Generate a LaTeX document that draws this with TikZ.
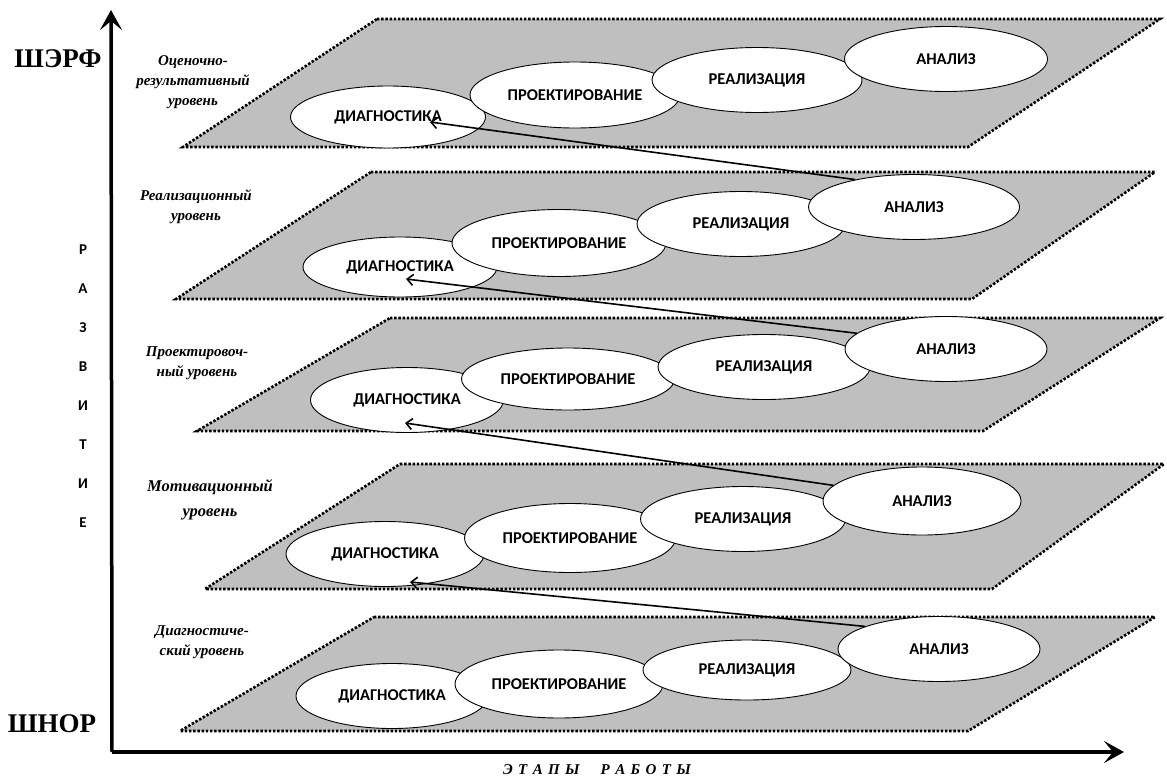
\documentclass[tikz,border=0pt]{standalone}
\usepackage{fontspec}
\setmainfont{Liberation Serif}
\newfontfamily\calibrifont{Carlito}
\usetikzlibrary{shapes.geometric,arrows.meta,calc}
\newcommand\lsp{\kern0.36em}
\begin{document}
\begin{tikzpicture}[x=1pt,y=-1pt,
  layer/.style={fill=black!25, draw=black, line width=2.6pt, dash pattern=on 2.4pt off 1.8pt},
  stage/.style={ellipse, draw=black, line width=0.9pt, fill=white, inner sep=0pt,
    font=\calibrifont\bfseries\fontsize{16.5}{18}\selectfont},
  lvl/.style={font=\bfseries\itshape\fontsize{15}{20}\selectfont, align=center},
  link/.style={line width=1.6pt, -{Straight Barb[length=6pt,width=11pt]}},
  axis/.style={line width=3.5pt, -{Stealth[length=20pt,width=22pt,inset=9pt]}},
  pole/.style={font=\bfseries\fontsize{27}{30}\selectfont}
]
\useasboundingbox (0,0) rectangle (1167,779);

% layers (planes)
\draw[layer] (377,19) -- (1160,19) -- (968,147) -- (183,147) -- cycle;
\draw[layer] (371,172) -- (1155,172) -- (972,299) -- (176,299) -- cycle;
\draw[layer] (390,318) -- (1160,318) -- (983,431) -- (197,431) -- cycle;
\draw[layer] (400,464) -- (1164,464) -- (992,589) -- (205,589) -- cycle;
\draw[layer] (374,617) -- (1155,617) -- (968,731) -- (180,731) -- cycle;

% level 1
\node[stage, minimum width=195pt, minimum height=62pt] (d1) at (388,117) {ДИАГНОСТИКА};
\node[stage, minimum width=210pt, minimum height=66pt] (p1) at (575,95) {ПРОЕКТИРОВАНИЕ};
\node[stage, minimum width=210pt, minimum height=65pt] (r1) at (757,80) {РЕАЛИЗАЦИЯ};
\node[stage, minimum width=203pt, minimum height=65pt] (a1) at (946,59) {АНАЛИЗ};
% level 2
\node[stage, minimum width=194pt, minimum height=60pt] (d2) at (400,267) {ДИАГНОСТИКА};
\node[stage, minimum width=214pt, minimum height=67pt] (p2) at (559,243) {ПРОЕКТИРОВАНИЕ};
\node[stage, minimum width=208pt, minimum height=65pt] (r2) at (741,224) {РЕАЛИЗАЦИЯ};
\node[stage, minimum width=211pt, minimum height=65pt] (a2) at (914,207) {АНАЛИЗ};
% level 3
\node[stage, minimum width=193pt, minimum height=65pt] (d3) at (407,400) {ДИАГНОСТИКА};
\node[stage, minimum width=213pt, minimum height=62pt] (p3) at (568,379) {ПРОЕКТИРОВАНИЕ};
\node[stage, minimum width=212pt, minimum height=65pt] (r3) at (764,367) {РЕАЛИЗАЦИЯ};
\node[stage, minimum width=202pt, minimum height=65pt] (a3) at (946,349) {АНАЛИЗ};
% level 4
\node[stage, minimum width=198pt, minimum height=65pt] (d4) at (385,554) {ДИАГНОСТИКА};
\node[stage, minimum width=211pt, minimum height=69pt] (p4) at (570,538) {ПРОЕКТИРОВАНИЕ};
\node[stage, minimum width=205pt, minimum height=65pt] (r4) at (743,519) {РЕАЛИЗАЦИЯ};
\node[stage, minimum width=198pt, minimum height=68pt] (a4) at (922,501) {АНАЛИЗ};
% level 5
\node[stage, minimum width=192pt, minimum height=65pt] (d5) at (392,696) {ДИАГНОСТИКА};
\node[stage, minimum width=208pt, minimum height=68pt] (p5) at (559,684) {ПРОЕКТИРОВАНИЕ};
\node[stage, minimum width=208pt, minimum height=60pt] (r5) at (747,670) {РЕАЛИЗАЦИЯ};
\node[stage, minimum width=202pt, minimum height=65pt] (a5) at (939,649) {АНАЛИЗ};

% transitions between levels
\coordinate (t1) at ($(d1.center)+(42,5)$);
\coordinate (t2) at ($(d2.center)+(6,12)$);
\coordinate (t3) at ($(d3.center)+(-2,23)$);
\coordinate (t4) at ($(d4.center)+(25,28)$);
\draw[link] (a2.155) -- (t1);
\draw[link] (a3.170) -- (t2);
\draw[link] (a4.170) -- (t3);
\draw[link] (a5.163) -- (t4);

% axes
\coordinate (O) at (112,752);
\coordinate (ytip) at (111,10);
\coordinate (xtip) at (1124,752);
\draw[axis] (O) -- (ytip);
\draw[axis] (O) -- (xtip);

% axis labels
\node[pole] (top) at (58,59) {ШЭРФ};
\node[pole] (bottom) at (52,724) {ШНОР};
\node[font=\calibrifont\bfseries\fontsize{15}{39}\selectfont, align=center] (razv) at (83,386)
  {Р\\А\\З\\В\\И\\Т\\И\\Е};
\node[font=\bfseries\itshape\fontsize{15}{16}\selectfont] (etapy) at (597,770)
  {Э\lsp Т\lsp А\lsp П\lsp Ы\kern1.4em Р\lsp А\lsp Б\lsp О\lsp Т\lsp Ы};

% level labels
\node[lvl] (l1) at (193,82) {Оценочно-\\результативный\\уровень};
\node[lvl] (l2) at (196,207) {Реализационный\\уровень};
\node[lvl] (l3) at (197,363) {Проектировоч-\\ный уровень};
\node[lvl, font=\bfseries\itshape\fontsize{16.5}{25}\selectfont] (l4) at (210,500) {Мотивационный\\уровень};
\node[lvl] (l5) at (202,642) {Диагностиче-\\ский уровень};
\end{tikzpicture}
\end{document}
